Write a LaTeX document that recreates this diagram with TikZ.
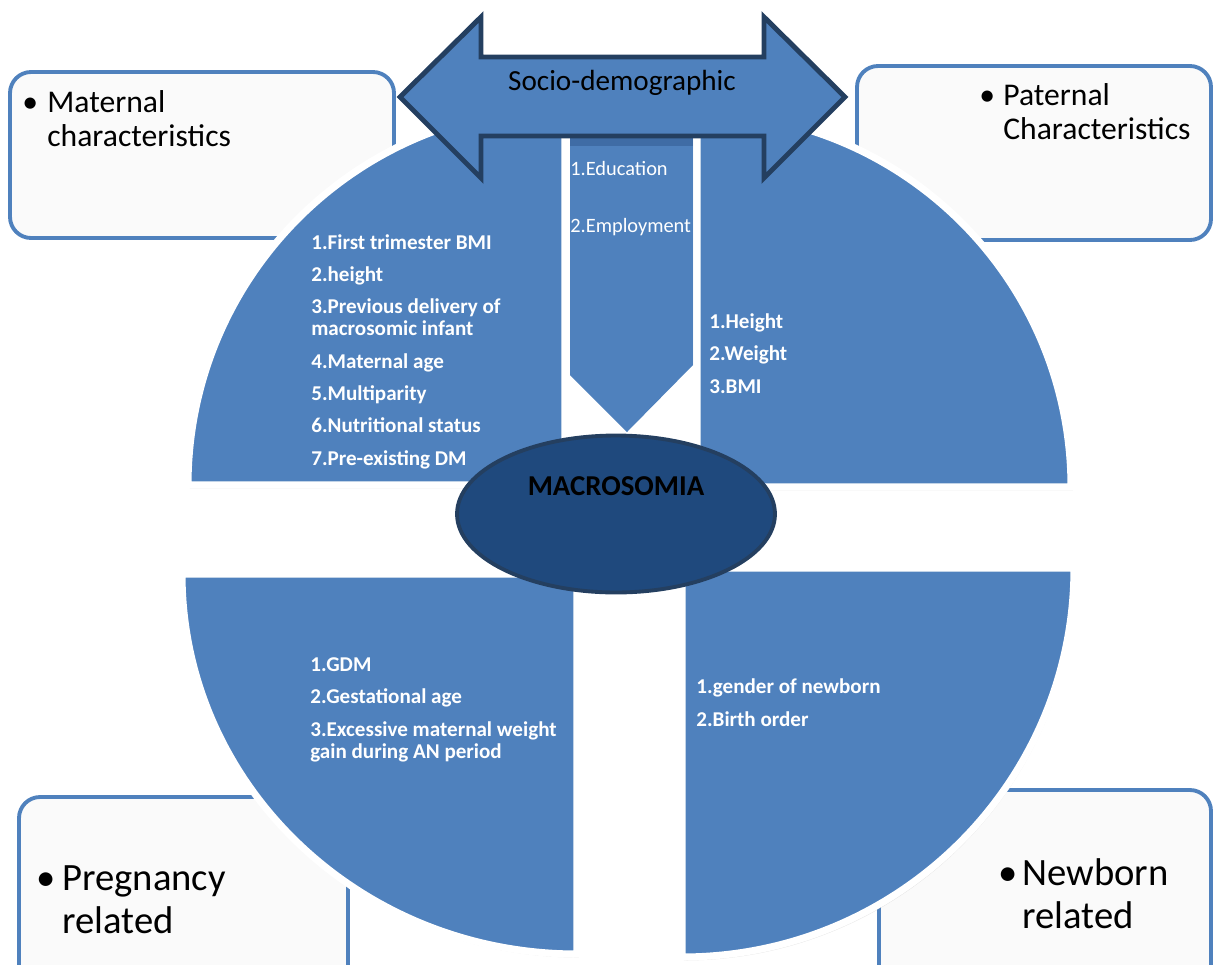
\documentclass[tikz,border=0pt]{standalone}
\usepackage{fontspec}
\setmainfont{Carlito}
\usetikzlibrary{shapes.geometric, positioning, shadows}
\definecolor{qblue}{HTML}{4F81BD}
\definecolor{navy}{HTML}{1F497D}
\definecolor{navyline}{HTML}{243F60}
\definecolor{bandblue}{HTML}{3F6CA5}
\definecolor{boxfill}{HTML}{FAFAFA}
\tikzset{
  quarter/.style={fill=qblue, draw=white, line width=4pt,
                  drop shadow={shadow xshift=1pt, shadow yshift=-2pt, opacity=0.2}},
  catbox/.style={draw=qblue, fill=boxfill, line width=2.2pt, rounded corners=12pt},
  dblarrow/.style={fill=qblue, draw=navyline, line width=2.8pt},
  core/.style={ellipse, fill=navy, draw=navyline, line width=2.2pt,
               minimum width=6.36cm, minimum height=3.14cm},
  coretext/.style={inner sep=0pt, font=\bfseries\fontsize{16.4}{18}\selectfont},
  sociotitle/.style={anchor=base, inner sep=0pt, font=\fontsize{16.6}{18}\selectfont},
  cattext/.style={anchor=base west, align=left, inner sep=0pt,
                  font=\fontsize{18}{19.3}\selectfont},
  bigcat/.style={cattext, font=\fontsize{22}{24.4}\selectfont},
  itemlist/.style={anchor=base west, align=left, inner sep=0pt, text=white,
                   font=\bfseries\fontsize{12}{12.5}\selectfont},
  socioitems/.style={anchor=base west, align=left, inner sep=0pt, text=white,
                     font=\fontsize{11.6}{12.5}\selectfont},
}

\begin{document}
\begin{tikzpicture}[x=0.02cm, y=-0.02cm]
  \useasboundingbox (0,0) rectangle (1214,964);
  \clip (0,0) rectangle (1214,964);
  % category boxes (text anchored at the baseline of the last line)
  \draw[catbox] (10,72) rectangle (394,238);
  \draw[catbox] (857,66) rectangle (1211,240);
  \draw[catbox] (19,797) rectangle (348,1010);
  \draw[catbox] (879,790) rectangle (1211,1010);
  \node[cattext] (matlabel) at (22,146)
    {\makebox[0.5cm][l]{\textbullet}Maternal\\\hspace*{0.5cm}characteristics};
  \node[cattext] (patlabel) at (979,139)
    {\makebox[0.48cm][l]{\textbullet}Paternal\\\hspace*{0.48cm}Characteristics};
  \node[bigcat] (preglabel) at (36,933)
    {\makebox[0.52cm][l]{\textbullet}Pregnancy\\\hspace*{0.52cm}related};
  \node[bigcat] (newlabel) at (998,928)
    {\makebox[0.48cm][l]{\textbullet}Newborn\\\hspace*{0.48cm}related};
  % down arrow
  \fill[qblue] (570,130) -- (693,130) -- (693,365) -- (627,432) -- (570,375) -- cycle;
  \fill[bandblue] (570,137) rectangle (693,146);
  % quarters
  \draw[quarter] (565,485) -- (188,485) arc[start angle=180, end angle=270, radius=377] -- cycle;
  \draw[quarter] (697,487) -- (697,113) arc[start angle=270, end angle=360, radius=374] -- cycle;
  \draw[quarter] (577,574) -- (182,574) arc[start angle=180, end angle=90, x radius=395, y radius=380] -- cycle;
  \draw[quarter] (682,568) -- (1074,568) arc[start angle=0, end angle=90, x radius=392, y radius=389] -- cycle;
  % socio-demographic arrow
  \draw[dblarrow] (400,97) -- (481,17) -- (481,57) -- (764,57) -- (764,17) -- (845,97)
    -- (764,178) -- (764,136) -- (481,136) -- (481,178) -- cycle;
  \node[sociotitle] (socio) at (622,90) {Socio-demographic};
  \node[socioitems] (socioitems) at (570,232) {1.Education\\[19.8pt]2.Employment};
  % lists
  \node[itemlist] (matitems) at (311,465)
    {1.First trimester BMI\\[5.9pt]
     2.height\\[5.9pt]
     3.Previous delivery of\\macrosomic infant\\[5.9pt]
     4.Maternal age\\[5.9pt]
     5.Multiparity\\[5.9pt]
     6.Nutritional status\\[5.9pt]
     7.Pre-existing DM};
  \node[itemlist] (patitems) at (709,393)
    {1.Height\\[5.9pt]2.Weight\\[5.9pt]3.BMI};
  \node[itemlist] (pregitems) at (310,758)
    {1.GDM\\[5.9pt]
     2.Gestational age\\[5.9pt]
     3.Excessive maternal weight\\gain during AN period};
  \node[itemlist] (newitems) at (696,726)
    {1.gender of newborn\\[5.9pt]2.Birth order};
  % outcome
  \node[core] (core) at (616,514) {};
  \node[coretext, above=10.5pt of core.center] (coretext) {MACROSOMIA};
\end{tikzpicture}
\end{document}
